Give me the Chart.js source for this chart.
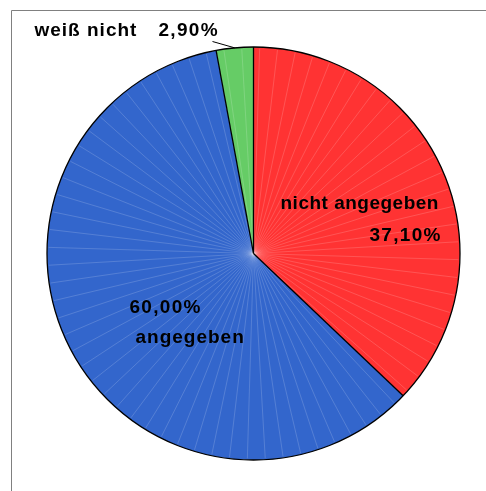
<!DOCTYPE html>
<html>
<head>
<meta charset="utf-8">
<script src="https://cdn.jsdelivr.net/npm/chart.js@4/dist/chart.umd.min.js"></script>
<style>
  html, body { margin: 0; padding: 0; background: #fff; }
  #wrap { position: relative; width: 486px; height: 491px; }
  canvas { position: absolute; left: 0; top: 0; }
</style>
</head>
<body>
<div id="wrap"><canvas id="c" width="486" height="491"></canvas></div>
<script>
const categories = ['nicht angegeben', 'angegeben', 'weiß nicht'];
const values = [37.10, 60.00, 2.90];
const valueLabels = ['37,10%', '60,00%', '2,90%'];
const colors = ['#FF3333', '#3366CC', '#66CC66'];

const decoPlugin = {
  id: 'deco',
  beforeDraw(chart) {
    const ctx = chart.ctx;
    ctx.save();
    ctx.strokeStyle = '#808080';
    ctx.lineWidth = 1;
    ctx.beginPath();
    ctx.moveTo(11.5, 491);
    ctx.lineTo(11.5, 10.5);
    ctx.lineTo(486, 10.5);
    ctx.stroke();
    ctx.restore();
  },
  afterDatasetsDraw(chart) {
    const ctx = chart.ctx;
    const arcs = chart.getDatasetMeta(0).data;
    const a0 = arcs[0];
    const cx = a0.x, cy = a0.y, R = a0.outerRadius;
    // faint radial facet lines
    ctx.save();
    ctx.strokeStyle = 'rgba(255,255,255,0.28)';
    ctx.lineWidth = 0.6;
    const n = 72;
    for (let i = 0; i < n; i++) {
      const ang = -Math.PI / 2 + i * 2 * Math.PI / n + 0.03;
      ctx.beginPath();
      ctx.moveTo(cx, cy);
      ctx.lineTo(cx + (R - 1.5) * Math.cos(ang), cy + (R - 1.5) * Math.sin(ang));
      ctx.stroke();
    }
    // segment borders
    ctx.strokeStyle = '#000';
    ctx.lineWidth = 1.3;
    arcs.forEach(a => {
      ctx.beginPath();
      ctx.moveTo(cx, cy);
      ctx.lineTo(cx + R * Math.cos(a.startAngle), cy + R * Math.sin(a.startAngle));
      ctx.stroke();
    });
    ctx.beginPath();
    ctx.arc(cx, cy, R, 0, Math.PI * 2);
    ctx.stroke();
    ctx.restore();

    // labels
    ctx.save();
    ctx.fillStyle = '#000';
    ctx.font = 'bold 19px "Liberation Sans", Arial, sans-serif';
    ctx.textBaseline = 'middle';
    ctx.textAlign = 'left';
    ctx.letterSpacing = '0.5px';
    ctx.fillText(categories[0], cx + 27, cy - 50);
    ctx.letterSpacing = '1.3px';
    ctx.fillText(valueLabels[0], cx + 116, cy - 18);
    ctx.fillText(valueLabels[1], cx - 124, cy + 54);
    ctx.letterSpacing = '1px';
    ctx.fillText(categories[1], cx - 118, cy + 84);
    ctx.fillText(categories[2], cx - 219, cy - 223);
    ctx.letterSpacing = '1.3px';
    ctx.fillText(valueLabels[2], cx - 95, cy - 223);
    // leader line for small slice
    const g = arcs[2];
    const mid = (g.startAngle + g.endAngle) / 2;
    ctx.strokeStyle = '#000';
    ctx.lineWidth = 1;
    ctx.beginPath();
    ctx.moveTo(cx - 41, cy - 212);
    ctx.lineTo(cx + R * Math.cos(mid), cy + R * Math.sin(mid));
    ctx.stroke();
    ctx.restore();
  }
};

new Chart(document.getElementById('c'), {
  type: 'pie',
  data: {
    labels: categories,
    datasets: [{
      data: values,
      backgroundColor: colors,
      borderColor: '#000',
      borderWidth: 0
    }]
  },
  options: {
    responsive: false,
    animation: false,
    layout: { padding: { left: 47, right: 26, top: 47, bottom: 31 } },
    plugins: {
      legend: { display: false },
      tooltip: { enabled: false },
      title: { display: false }
    }
  },
  plugins: [decoPlugin]
});
</script>
</body>
</html>
